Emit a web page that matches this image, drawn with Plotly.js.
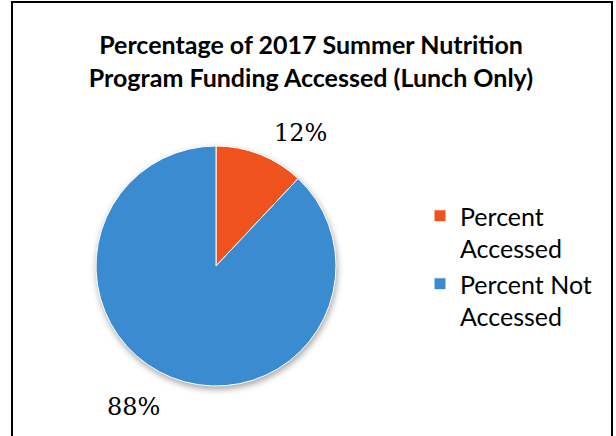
<!DOCTYPE html>
<html>
<head>
<meta charset="utf-8">
<script src="https://cdn.plot.ly/plotly-3.0.1.min.js"></script>
<style>
  html, body { margin: 0; padding: 0; background: #fff; overflow: hidden; }
  #frame { position: absolute; left: 11px; top: 1px; width: 602px; height: 440px;
           border: 2px solid #000; border-bottom: none; box-sizing: border-box; }
  #chart { position: absolute; left: 0; top: 0; width: 616px; height: 436px; }
  .pielayer .trace { filter: drop-shadow(1px 3px 3px rgba(0,0,0,0.35)); }
</style>
</head>
<body>
<div id="frame"></div>
<div id="chart"></div>
<script>
const categories = ["Percent<br>Accessed", "Percent Not<br>Accessed"];
const values = [12, 88];
const colors = ["#F0521E", "#3B8BD0"];
const titleText = "Percentage of 2017 Summer Nutrition<br>Program Funding Accessed (Lunch Only)";

const total = values.reduce((a, b) => a + b, 0);
const pct = values.map(v => Math.round(v / total * 100) + "%");

const W = 616, H = 436;
const trace = {
  type: "pie",
  labels: categories,
  values: values,
  sort: false,
  direction: "clockwise",
  rotation: 0,
  textinfo: "none",
  hoverinfo: "label+percent",
  marker: { colors: colors, line: { color: "#ffffff", width: 1 } },
  domain: { x: [96 / W, 336 / W], y: [50 / H, 290 / H] },
  showlegend: true
};

const labelFont = { family: "DejaVu Serif, serif", size: 24, color: "#000" };
const layout = {
  width: W, height: H,
  margin: { l: 0, r: 0, t: 0, b: 0 },
  paper_bgcolor: "rgba(0,0,0,0)",
  plot_bgcolor: "rgba(0,0,0,0)",
  title: {
    text: titleText,
    font: { family: "Lato, sans-serif", size: 25, color: "#000", weight: "bold" },
    x: 311 / W, xanchor: "center",
    y: 1 - 54 / H, yanchor: "middle"
  },
  legend: {
    x: 420 / W, xanchor: "left",
    y: 1 - 266 / H, yanchor: "middle",
    valign: "top",
    font: { family: "Lato, sans-serif", size: 25, color: "#000" },
    itemwidth: 30,
    bgcolor: "rgba(0,0,0,0)"
  },
  annotations: [
    { text: pct[0], xref: "paper", yref: "paper", x: 300 / W, y: 1 - 133 / H,
      showarrow: false, font: labelFont, xanchor: "center", yanchor: "middle" },
    { text: pct[1], xref: "paper", yref: "paper", x: 133 / W, y: 1 - 407 / H,
      showarrow: false, font: labelFont, xanchor: "center", yanchor: "middle" }
  ]
};

Plotly.newPlot("chart", [trace], layout, { displayModeBar: false, staticPlot: true });
</script>
</body>
</html>
